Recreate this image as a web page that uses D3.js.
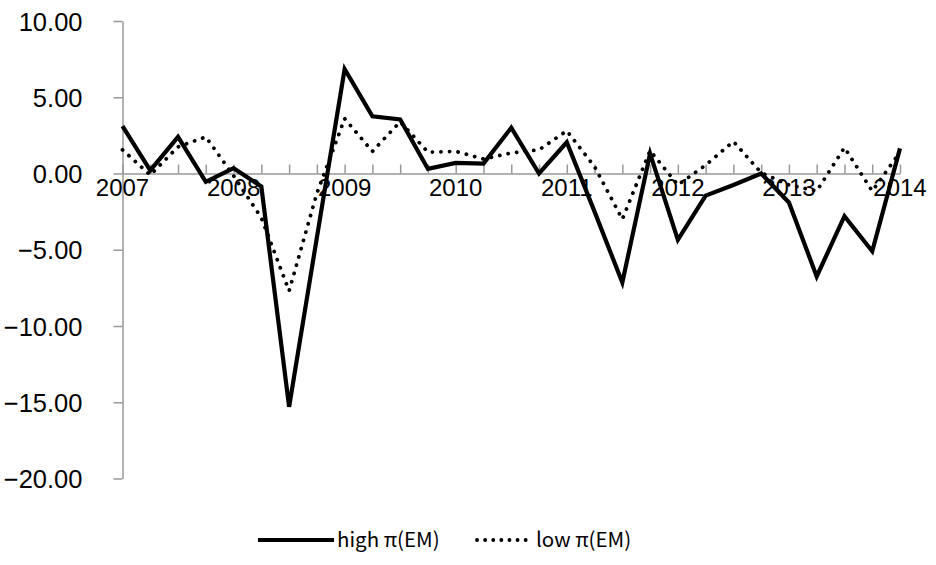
<!DOCTYPE html>
<html>
<head>
<meta charset="utf-8">
<script src="https://cdn.jsdelivr.net/npm/d3@7"></script>
<style>
  body { margin: 0; background: #fff; }
  svg { display: block; font-family: "Noto Sans CJK KR", "Noto Sans", sans-serif; }
  .axis path, .axis line { stroke: #999; stroke-width: 1.5; }
  .axis text { fill: #000; font-size: 24px; }
</style>
</head>
<body>
<svg id="chart" width="936" height="565"></svg>
<script>
// quarterly observations, 2007Q1 .. 2014Q1
const quarters = d3.range(29);
const yearLabels = ["2007", "2008", "2009", "2010", "2011", "2012", "2013", "2014"];
const highPi = [3.1, 0.2, 2.4, -0.55, 0.35, -0.85, -15.3, -4.2, 6.85, 3.75, 3.55, 0.3, 0.7, 0.65, 3.0, 0.0,
  2.05, -2.5, -7.15, 1.3, -4.35, -1.45, -0.75, 0.0, -1.9, -6.75, -2.8, -5.1, 1.65];
const lowPi = [1.55, -0.1, 1.75, 2.4, -0.15, -2.9, -7.7, -1.3, 3.6, 1.45, 3.4, 1.4, 1.45, 0.95, 1.35, 1.55,
  2.8, 0.45, -3.0, 1.5, -0.75, 0.55, 2.1, 0.05, -0.75, -1.15, 1.7, -1.15, 1.4];
const yTicks = [10, 5, 0, -5, -10, -15, -20];
const seriesNames = ["high π(EM)", "low π(EM)"];

const svg = d3.select("#chart");

const x = d3.scalePoint().domain(quarters).range([122.5, 900]);
const y = d3.scaleLinear().domain([-20, 10]).range([478.5, 21]);

// y axis
svg.append("g")
  .attr("class", "axis")
  .attr("transform", "translate(122.5,0)")
  .call(d3.axisLeft(y).tickValues(yTicks).tickFormat(d3.format(".2f"))
    .tickSizeInner(9).tickSizeOuter(0).tickPadding(31))
  .call(g => g.selectAll("text").attr("dy", "0.36em").style("font-size", "25.5px"));

// x axis sitting on zero, ticks pointing up
const xAxis = svg.append("g")
  .attr("class", "axis")
  .attr("transform", `translate(0,${y(0)})`)
  .call(d3.axisBottom(x).tickSizeInner(-9).tickSizeOuter(0).tickFormat(""));

xAxis.selectAll(".year")
  .data(yearLabels)
  .join("text")
  .attr("class", "year")
  .attr("x", (d, i) => x(i * 4))
  .attr("y", 14)
  .attr("dy", "0.36em")
  .attr("text-anchor", "middle")
  .text(d => d);

const line = d3.line().x((d, i) => x(i)).y(d => y(d));

svg.append("path")
  .datum(highPi)
  .attr("fill", "none")
  .attr("stroke", "#000")
  .attr("stroke-width", 4.2)
  .attr("stroke-linejoin", "miter")
  .attr("d", line);

svg.append("path")
  .datum(lowPi)
  .attr("fill", "none")
  .attr("stroke", "#000")
  .attr("stroke-width", 3.8)
  .attr("stroke-linecap", "round")
  .attr("stroke-dasharray", "0.1 8.5")
  .attr("d", line);

// legend
const legend = svg.append("g").attr("transform", "translate(0,540)");
const items = [
  { name: seriesNames[0], x0: 258, len: 76, dash: null, w: 4.2 },
  { name: seriesNames[1], x0: 477, len: 56, dash: "0.1 8", w: 3.8 }
];
items.forEach(it => {
  legend.append("line")
    .attr("x1", it.x0).attr("x2", it.x0 + it.len)
    .attr("stroke", "#000")
    .attr("stroke-width", it.w)
    .attr("stroke-linecap", it.dash ? "round" : "butt")
    .attr("stroke-dasharray", it.dash);
  legend.append("text")
    .attr("x", it.x0 + it.len + 3)
    .attr("dy", "0.36em")
    .style("font-size", "20.5px")
    .text(it.name);
});
</script>
</body>
</html>
